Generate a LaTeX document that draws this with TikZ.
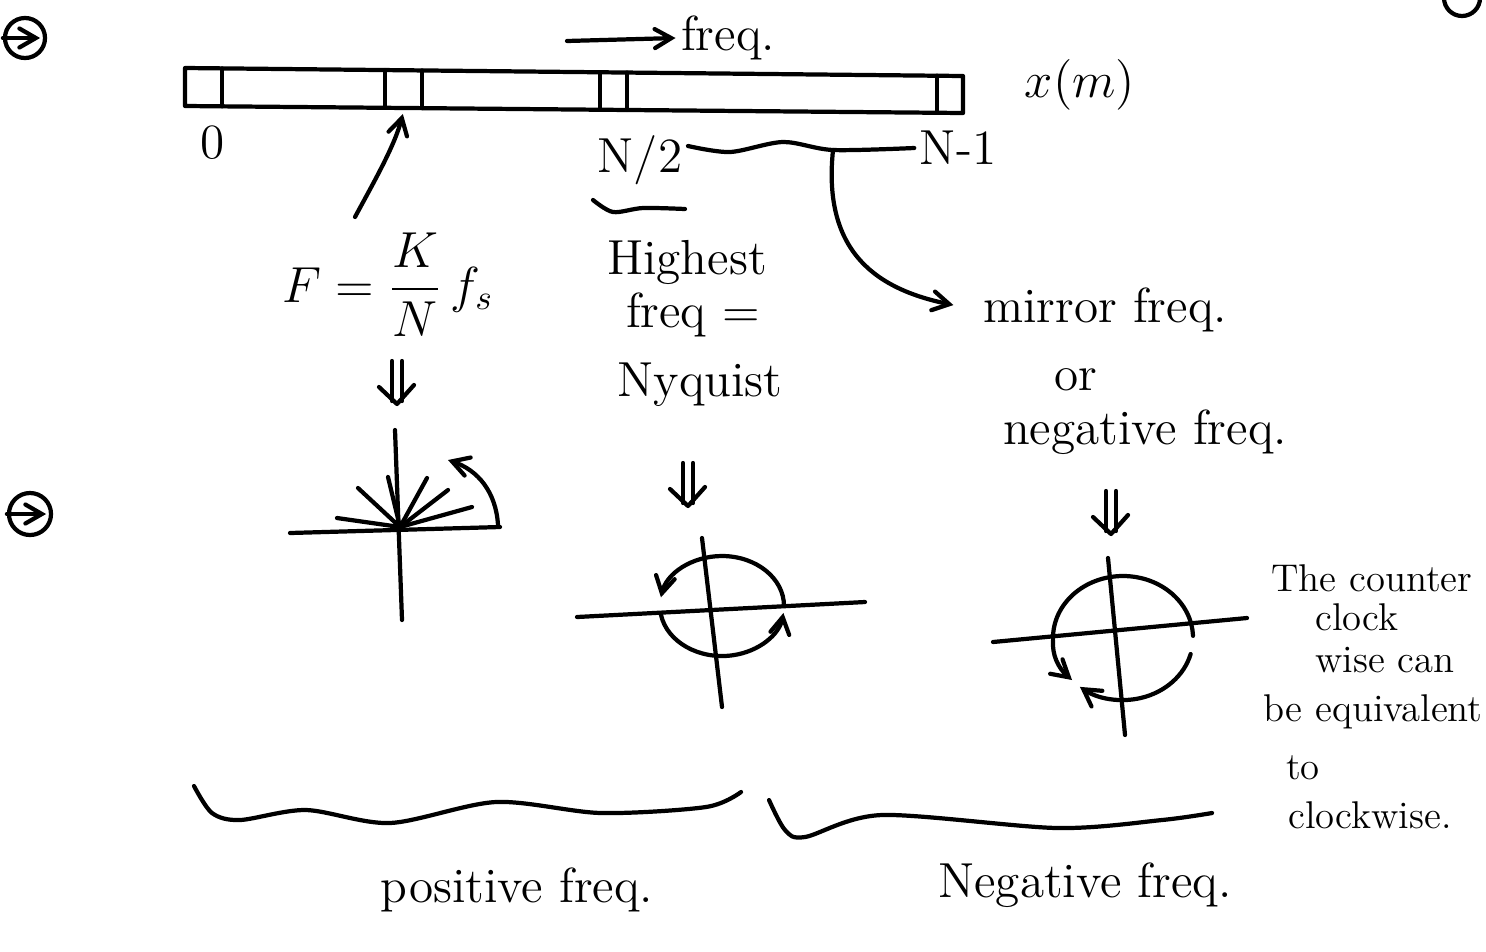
\documentclass[tikz,border=0pt]{standalone}
\usepackage{amsmath}
\usepackage{tikz}
\usetikzlibrary{arrows,calc,positioning}

\tikzset{
  pen/.style={line width=1.2pt,line cap=round,line join=round},
  lbl/.style={font=\fontsize{14}{17}\selectfont,inner sep=1pt},
  note/.style={font=\fontsize{11}{13}\selectfont,inner sep=1pt},
  dbldown/.pic={
    \draw (-5,-21) -- (-5,19);
    \draw (5,-21) -- (5,19);
    \draw (-18,5) -- (0,22) -- (17,3);
  },
}

\begin{document}
\begin{tikzpicture}[x=0.01cm,y=-0.01cm,pen]
  \useasboundingbox (0,0) rectangle (1486,951);
  % margin marks
  \node [draw,circle,pen,minimum size=0.40cm,inner sep=0] (mkA) at (25,38) {};
  \node [draw,circle,pen,minimum size=0.42cm,inner sep=0] (mkB) at (30,514) {};
  \draw[->,>=angle 60,shorten >=2pt] (mkA.west) -- (mkA.east);
  \draw[->,>=angle 60,shorten >=2pt] (mkB.west) -- (mkB.east);
  \begin{scope}
    \clip (0,0) rectangle (1486,951);
    \draw (1462,-2) circle [radius=18];
  \end{scope}

  % the array x(m)
  \coordinate (tl) at (185,68);
  \coordinate (tr) at (963,76);
  \coordinate (br) at (963,113);
  \coordinate (bl) at (185,106);
  \draw (tl) -- (tr) -- (br) -- (bl) -- cycle;
  \foreach \t in {0.048,0.257,0.305,0.533,0.568,0.967}
    \draw ($(tl)!\t!(tr)$) -- ($(bl)!\t!(br)$);
  \node [lbl] (xm) at (1080,85) {$x(m)$};
  \node [lbl] (zero) at (213,143) {0};
  \node [lbl] (half) at (640,160) {N/2};
  \node [lbl] (last) at (958,148) {N-1};

  % freq direction
  \node [lbl] (freqtop) at (728,38) {freq.};
  \coordinate (ftail) at (567,41);
  \draw[->,>=angle 60] (ftail) -- (freqtop.west);

  % mirror half
  \coordinate (junc) at (833,150);
  \draw plot [smooth] coordinates {(688,146) (730,152) (783,142) (junc) (last.west)};
  \draw plot [smooth] coordinates {(593,200) (613,212) (643,208) (685,209)};

  % labels under the array
  \node [lbl] (formula) at (388,285) {$F = \dfrac{K}{N}\, f_s$};
  \node [lbl] (hi1) at (687,262) {Highest};
  \node [lbl] (hi2) at (693,315) {freq =};
  \node [lbl] (hi3) at (700,385) {Nyquist};
  \node [lbl] (mirror) at (1105,310) {mirror freq.};
  \node [lbl] (or) at (1076,380) {or};
  \node [lbl] (neg) at (1145,432) {negative freq.};

  % pointers
  \coordinate (fpt) at (355,217);
  \coordinate (cellk) at ($(bl)!0.28!(br)+(0,6)$);
  \draw[->,>=angle 60] (fpt) .. controls (375,180) and (395,145) .. (cellk);
  \draw[->,>=angle 60,shorten >=7pt] (junc) .. controls (822,255) and (880,290) .. (mirror.west);

  % implies
  \pic at (397,382) {dbldown};
  \pic at (688,484) {dbldown};
  \pic at (1111,512) {dbldown};

  % positive freq: fan of phasors
  \def\pzero{(400,527)}
  \draw (290,533) -- (500,527);
  \draw (395,430) -- (402,620);
  \foreach \e in {(337,518),(358,488),(388,477),(427,478),(448,490),(472,507)}
    \draw \pzero -- \e;
  \draw[->,>=angle 60] (498,525) .. controls (496,492) and (478,470) .. (448,460);

  % nyquist: half turn each step
  \coordinate (q0) at (722,606);
  \draw (577,617) -- (865,602);
  \draw (702,538) -- (722,707);
  \draw[->,>=angle 60] ($(q0)+(62,0)$) arc [start angle=0,end angle=-170,x radius=62,y radius=50];
  \draw[->,>=angle 60] ($(q0)+(170:62 and 50)$) arc [start angle=170,end angle=8,x radius=62,y radius=50];

  % negative freq: turning the other way
  \coordinate (n0) at (1123,638);
  \draw (993,642) -- (1247,618);
  \draw (1108,558) -- (1125,735);
  \draw ($(n0)+(-70,0)$) arc [start angle=180,end angle=358,x radius=70,y radius=62];
  \draw[->,>=angle 60] ($(n0)+(15:70 and 62)$) arc [start angle=15,end angle=128,x radius=70,y radius=62];
  \draw[->,>=angle 60] ($(n0)+(-70,2)$) .. controls (1052,655) and (1058,668) .. (1072,680);

  % side note
  \node [note] (s1) at (1372,578) {The counter};
  \node [note] (s2) at (1357,617) {clock};
  \node [note] (s3) at (1385,660) {wise can};
  \node [note,anchor=west] (s4) at (1258,712) {be equivalent};
  \node [note] (s5) at (1303,768) {to};
  \node [note] (s6) at (1370,815) {clockwise.};

  % braces
  \draw plot [smooth] coordinates {(194,786) (212,813) (240,820) (306,810) (390,823) (496,802) (601,813) (706,807) (741,792)};
  \draw plot [smooth] coordinates {(769,800) (785,830) (805,837) (882,815) (1057,828) (1162,820) (1212,813)};
  \node [lbl] (pos) at (517,890) {positive freq.};
  \node [lbl] (negb) at (1085,885) {Negative freq.};
\end{tikzpicture}
\end{document}
